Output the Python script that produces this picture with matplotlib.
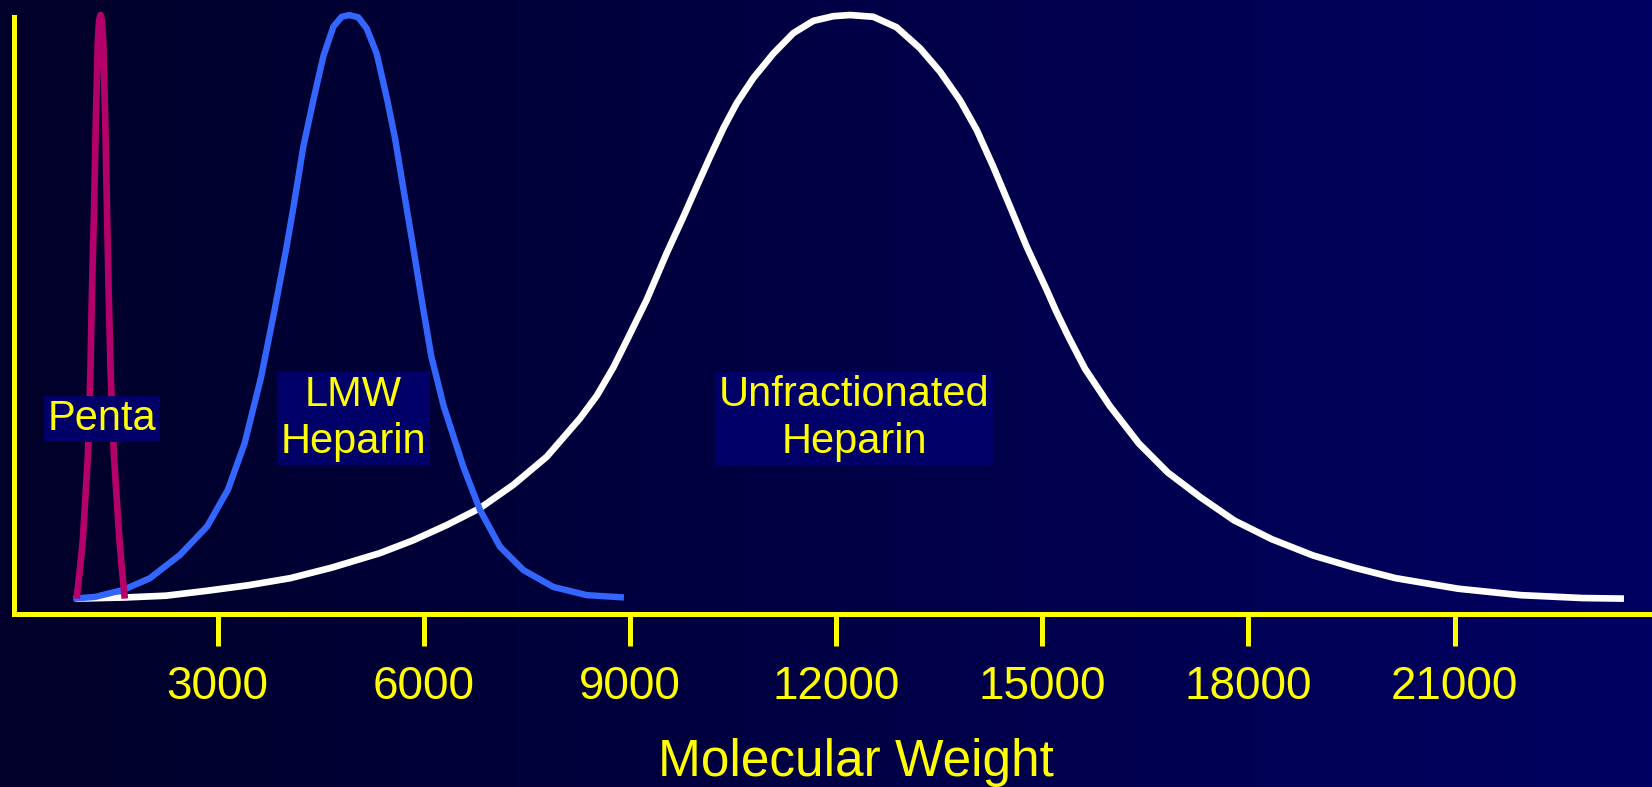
import numpy as np
import matplotlib
matplotlib.use("Agg")
import matplotlib.pyplot as plt
from matplotlib.colors import LinearSegmentedColormap

plt.rcParams['font.family'] = ['Liberation Sans', 'DejaVu Sans']

# values (molecular weight, relative amount)
penta_mw = [949, 1005, 1040, 1112, 1149, 1172, 1203, 1227, 1257, 1275, 1296,
            1317, 1336, 1366, 1390, 1414, 1444, 1492, 1571, 1600, 1650]
penta_amt = [0, 6, 10.2, 24.4, 38.6, 52.8, 67, 81.2, 95.5, 99, 100,
             99, 95.5, 81.2, 67, 52.8, 38.6, 24.4, 10.2, 6, 0]

lmw_mw = [900, 1220, 1628, 2016, 2453, 2850, 3152, 3393, 3634, 3830, 4000,
          4110, 4247, 4393, 4538, 4684, 4806, 4917, 5048, 5170, 5315, 5470,
          5580, 5700, 5835, 5970, 6110, 6290, 6576, 6818, 7109, 7449, 7885,
          8371, 8913]
lmw_amt = [0, 0.3, 1.5, 3.5, 7.5, 12.4, 18.7, 26.6, 38, 49.5, 60,
           67.5, 77.4, 85.4, 92.9, 98, 99.7, 100, 99.6, 97.7, 93.4, 85.4,
           79, 70.5, 61, 51.2, 41.5, 33, 22.6, 15.2, 8.9, 4.9, 2.0,
           0.6, 0.2]

ufh_mw = [930, 1660, 2246, 2850, 3453, 4056, 4659, 5363, 5848, 6334, 6818,
          7303, 7789, 8274, 8520, 8758, 8953, 9244, 9535, 9777, 9972, 10166,
          10360, 10554, 10796, 11087, 11378, 11669, 11960, 12203, 12542,
          12880, 13222, 13513, 13804, 14047, 14288, 14531, 14774, 15065,
          15200, 15380, 15622, 15984, 16405, 16828, 17311, 17793, 18337,
          18940, 19544, 20146, 21051, 21956, 22861, 23465]
ufh_amt = [0, 0.2, 0.5, 1.35, 2.3, 3.5, 5.3, 7.8, 10, 12.6, 15.5,
           19.5, 24.3, 30.9, 34.8, 39.6, 44.2, 51.2, 59.2, 65.4, 70.6, 75.7,
           80.6, 84.9, 89.2, 93.4, 96.9, 99.0, 99.8, 100, 99.7,
           97.9, 94.3, 90.3, 85.4, 80.3, 74, 67.2, 60.3, 52.9,
           49.3, 44.9, 39.4, 33, 26.6, 21.6, 17.3, 13.4, 10.2,
           7.4, 5.3, 3.5, 1.7, 0.6, 0.1, 0]

ticks = [3000, 6000, 9000, 12000, 15000, 18000, 21000]
labels = ["Penta", "LMW\nHeparin", "Unfractionated\nHeparin"]
label_x = [1318, 4979, 12261]
label_y = [30.8, 30.9, 30.9]

yellow = '#FFFF00'

fig = plt.figure(figsize=(16.52, 7.87), dpi=100)

# background gradient
bg = fig.add_axes([0, 0, 1, 1], zorder=-5)
cmap = LinearSegmentedColormap.from_list('bg', ['#000028', '#000062'])
bg.imshow(np.linspace(0, 1, 256)[None, :], aspect='auto', cmap=cmap,
          extent=[0, 1, 0, 1])
bg.axis('off')

ax = fig.add_axes([0.00829, 0.2203, 0.99021, 0.7586])
ax.set_facecolor('none')

ax.plot(ufh_mw, ufh_amt, color='white', lw=4.8, solid_capstyle='butt',
        solid_joinstyle='round', clip_on=False, zorder=3)
ax.plot(lmw_mw, lmw_amt, color='#3366FF', lw=4.6, solid_capstyle='butt',
        solid_joinstyle='round', clip_on=False, zorder=4)
ax.plot(penta_mw, penta_amt, color='#B4006B', lw=4.8, solid_capstyle='butt',
        solid_joinstyle='round', clip_on=False, zorder=5)

for txt, x, y in zip(labels, label_x, label_y):
    ax.text(x, y, txt, color=yellow, fontsize=30, ha='center', va='center',
            multialignment='center', linespacing=1.22, zorder=6,
            bbox=dict(boxstyle='square,pad=0.08', fc='#000068', ec='none'))

ax.set_xlim(33, 23837)
ax.set_ylim(-2.57, 99.73)

for s in ['top', 'right']:
    ax.spines[s].set_visible(False)
for s in ['left', 'bottom']:
    ax.spines[s].set_color(yellow)
    ax.spines[s].set_linewidth(3.6)
    ax.spines[s].set_capstyle('projecting')

ax.set_yticks([])
ax.set_xticks(ticks)
ax.set_xticklabels([str(t) for t in ticks])
ax.tick_params(axis='x', direction='out', length=23, width=3.6, color=yellow,
               labelcolor=yellow, labelsize=33, pad=14)

fig.text(0.518, 0.0145, "Molecular Weight", color=yellow, fontsize=37,
         ha='center', va='baseline')

fig.savefig('out.png', dpi=100, facecolor=fig.get_facecolor())
